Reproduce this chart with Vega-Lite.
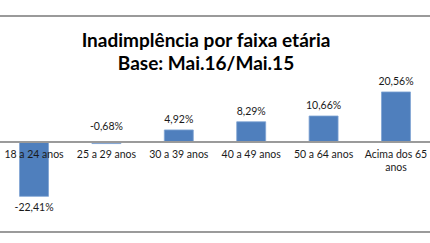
{
  "$schema": "https://vega.github.io/schema/vega-lite/v6.json",
  "width": 430,
  "height": 243,
  "autosize": {"type": "none"},
  "padding": 0,
  "background": "white",
  "config": {"view": {"stroke": null}, "font": "Lato", "axisY": {"disable": true}},
  "title": {
    "text": ["Inadimplência por faixa etária", "Base: Mai.16/Mai.15"],
    "font": "Lato",
    "fontSize": 19,
    "fontWeight": "bold",
    "color": "#000000",
    "lineHeight": 23.5,
    "anchor": "middle",
    "baseline": "top",
    "offset": -74,
    "dx": -9
  },
  "data": {
    "values": [
      {"faixa": "18 a 24 anos", "rotulo": "18 a 24 anos", "valor": -22.41, "texto": "-22,41%"},
      {"faixa": "25 a 29 anos", "rotulo": "25 a 29 anos", "valor": -0.68, "texto": "-0,68%"},
      {"faixa": "30 a 39 anos", "rotulo": "30 a 39 anos", "valor": 4.92, "texto": "4,92%"},
      {"faixa": "40 a 49 anos", "rotulo": "40 a 49 anos", "valor": 8.29, "texto": "8,29%"},
      {"faixa": "50 a 64 anos", "rotulo": "50  a 64 anos", "valor": 10.66, "texto": "10,66%"},
      {"faixa": "Acima dos 65 anos", "rotulo": "Acima dos 65\nanos", "valor": 20.56, "texto": "20,56%"}
    ]
  },
  "encoding": {
    "x": {
      "field": "faixa",
      "type": "nominal",
      "sort": null,
      "axis": null,
      "scale": {"paddingInner": 0.6, "paddingOuter": 0.27}
    }
  },
  "layer": [
    {
      "mark": {"type": "rule", "color": "#9a9a9a", "strokeWidth": 1.5},
      "encoding": {"y": {"datum": 51.85, "type": "quantitative", "axis": null, "scale": {"domain": [-41.6, 58.4], "nice": false, "zero": false}}, "x": {"value": 0}, "x2": {"value": 430}}
    },
    {
      "mark": {"type": "rule", "color": "#9a9a9a", "strokeWidth": 1.5},
      "encoding": {"y": {"datum": -37, "type": "quantitative", "axis": null}, "x": {"value": 0}, "x2": {"value": 430}}
    },
    {
      "mark": {"type": "bar", "color": "#4F7FBD", "stroke": "#7FA3D3", "strokeWidth": 0.8},
      "encoding": {
        "y": {"field": "valor", "type": "quantitative", "axis": null},
        "y2": {"datum": 0}
      }
    },
    {
      "mark": {"type": "rule", "color": "#9a9a9a", "strokeWidth": 1.3},
      "encoding": {"y": {"datum": 0, "type": "quantitative", "axis": null}, "x": {"value": 0}, "x2": {"value": 430}}
    },
    {
      "transform": [{"filter": "datum.valor > 0"}],
      "mark": {"type": "text", "baseline": "bottom", "dy": -5, "fontSize": 10.5, "color": "#1a1a1a"},
      "encoding": {"y": {"field": "valor", "type": "quantitative", "axis": null}, "text": {"field": "texto"}}
    },
    {
      "transform": [{"filter": "datum.valor <= 0 && datum.valor > -5"}],
      "mark": {"type": "text", "baseline": "bottom", "dy": -10, "fontSize": 10.5, "color": "#1a1a1a"},
      "encoding": {"y": {"datum": 0, "type": "quantitative", "axis": null}, "text": {"field": "texto"}}
    },
    {
      "transform": [{"filter": "datum.valor <= -5"}],
      "mark": {"type": "text", "baseline": "top", "dy": 7, "fontSize": 10.5, "color": "#1a1a1a"},
      "encoding": {"y": {"field": "valor", "type": "quantitative", "axis": null}, "text": {"field": "texto"}}
    },
    {
      "mark": {"type": "text", "baseline": "top", "dy": 8, "fontSize": 10.5, "color": "#1a1a1a", "lineBreak": "\n", "lineHeight": 13},
      "encoding": {"y": {"datum": 0, "type": "quantitative", "axis": null}, "text": {"field": "rotulo"}}
    }
  ]
}
